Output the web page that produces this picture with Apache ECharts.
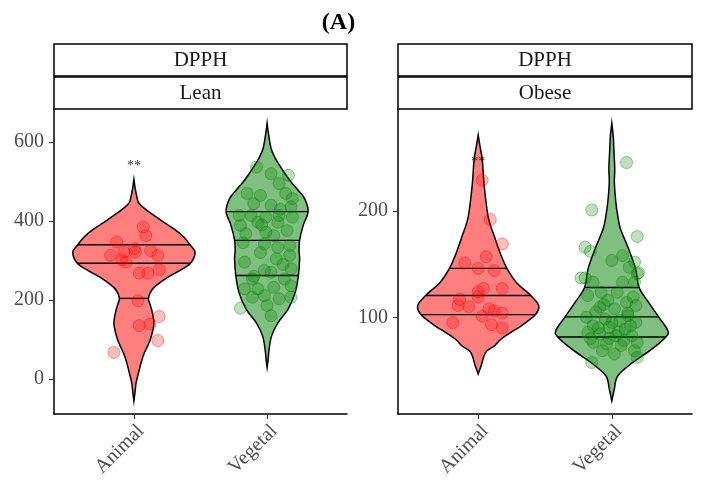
<!DOCTYPE html>
<html><head><meta charset="utf-8">
<script src="https://cdn.jsdelivr.net/npm/echarts@6/dist/echarts.min.js"></script>
<style>html,body{margin:0;padding:0;background:#fff}#c{width:704px;height:484px}</style>
</head><body><div id="c"></div>
<script>
const categories = ['Animal', 'Vegetal'];
const panelNames = ['Lean', 'Obese'];
const facetTitle = 'DPPH';
const figureTag = '(A)';
const yTicksLean = [0, 200, 400, 600];
const yTicksObese = [100, 200];

// violin outlines: value and half width (category units)
const leanAnimalProfileY = [506,480,460,445,425,402,380,359,340,321,293,275,258,240,224,204,190,173,140,105,85,63,40,20,0,-13,-35,-56];
const leanAnimalProfileW = [0,.011,.023,.038,.105,.203,.301,.376,.421,.459,.425,.346,.256,.180,.132,.109,.120,.135,.150,.128,.105,.075,.053,.038,.023,.015,.008,0];
const leanVegetalProfileY = [648,620,584,560,541,520,499,478,457,424,389,351,325,304,262,219,177,143,109,75,50,29];
const leanVegetalProfileW = [0,.011,.030,.060,.094,.135,.180,.233,.282,.308,.271,.244,.240,.244,.235,.211,.158,.083,.034,.015,.008,0];
const obeseAnimalProfileY = [271.4,260,249,230,218,193,174,158,146,133,120.5,111,102.5,92,86,79.6,73,67,54.4,46.6];
const obeseAnimalProfileW = [0,.015,.030,.041,.050,.077,.127,.172,.215,.284,.393,.453,.427,.322,.247,.172,.120,.056,.022,0];
const obeseVegetalProfileY = [282.5,270,259,240,227,208.5,195,183,164.5,146,128,114,100.4,87.5,81.5,70,57.5,45,32.5,21.4];
const obeseVegetalProfileW = [0,.011,.015,.022,.019,.030,.045,.065,.125,.177,.204,.275,.350,.419,.404,.299,.157,.045,.019,0];

// quantile lines (25/50/75 %)
const leanAnimalQuantiles = [204, 293, 340];
const leanVegetalQuantiles = [262, 351, 424];
const obeseAnimalQuantiles = [102.5, 120.5, 146];
const obeseVegetalQuantiles = [81.5, 100.4, 128];

// jittered points
const leanAnimalX = [1.07,1.09,0.87,1.005,1.01,0.925,1.125,0.825,1.18,0.91,0.94,1.04,1.105,1.19,1.03,1.04,1.12,1.19,1.18,0.85];
const leanAnimalY = [385,363,347,330,321,321,325,313,313,302,296,268,268,277,198,135,139,158,97,67];
const leanVegetalX = [1.92,2.16,1.80,2.03,2.09,1.85,1.95,2.19,1.90,2.03,2.18,1.79,1.88,1.99,2.09,2.19,1.80,1.93,2.08,2.15,1.84,1.99,2.05,2.17,1.98,2.08,1.83,2.07,2.17,2.18,1.98,1.89,2.03,2.13,1.83,1.93,2.05,2.18,1.89,1.98,2.09,2.18,2.00,2.03,1.82,1.95,2.12,1.90,2.10,1.96,2.14];
const leanVegetalY = [537,516,179,520,495,470,465,457,444,440,436,414,414,410,414,410,389,397,397,376,368,372,363,338,342,333,296,304,313,279,275,253,270,253,228,228,232,236,207,211,203,207,186,160,345,320,290,260,430,390,470];
const obeseAnimalX = [1.03,1.09,1.18,1.06,0.90,1.00,1.12,1.04,1.18,1.00,1.00,0.86,0.85,0.93,1.08,1.12,1.18,1.03,0.81,1.10,1.18];
const obeseAnimalY = [229,192,169,157,151,146,144,127,127,124,119,117,111,110,108,106,104,101,95,93,90];
const obeseVegetalX = [2.11,1.85,2.19,1.80,1.84,2.08,2.00,2.17,2.13,2.19,1.80,1.86,2.08,2.17,1.92,2.04,1.82,2.16,1.97,2.11,2.18,1.91,2.02,1.81,2.12,1.95,2.06,2.18,1.86,1.98,2.10,1.82,1.91,2.03,2.15,2.19,1.86,1.96,2.07,2.17,1.93,2.02,2.19,1.85,1.77,2.20,1.88,2.00,2.14,1.90,2.05,1.84,2.09,1.98,2.12,1.94];
const obeseVegetalY = [245.6,201,176,166,162,158,153.5,152,147,141,137,133,133,133,123.6,123.6,120.5,119,116,114,111,109.4,108,100,101.6,98.5,96.9,95.3,92,90.6,89,85.8,84.3,82.7,82.7,76.4,76.4,75,73.3,68.6,68.6,65.5,62.3,57.5,137,142,105,95,92,90,86,80,78,80,104,112];

// significance marks
const leanStarValue = 546;
const obeseStarValue = 249;

const SERIF = '"Liberation Serif", "DejaVu Serif", serif';

function pairs(xs, ys) { return xs.map((x, i) => [x, ys[i]]); }
function widthAt(py, pw, q) {
  for (let i = 0; i < py.length - 1; i++) {
    const a = py[i], b = py[i + 1];
    if ((q <= a && q >= b) || (q >= a && q <= b)) {
      const t = a === b ? 0 : (q - a) / (b - a);
      return pw[i] + t * (pw[i + 1] - pw[i]);
    }
  }
  return 0;
}
function spline(p) {
  let s = '';
  for (let i = 0; i < p.length - 1; i++) {
    const p0 = p[Math.max(i - 1, 0)], p1 = p[i], p2 = p[i + 1], p3 = p[Math.min(i + 2, p.length - 1)];
    const c1 = [p1[0] + (p2[0] - p0[0]) / 6, p1[1] + (p2[1] - p0[1]) / 6];
    const c2 = [p2[0] - (p3[0] - p1[0]) / 6, p2[1] - (p3[1] - p1[1]) / 6];
    s += 'C' + c1[0] + ',' + c1[1] + ' ' + c2[0] + ',' + c2[1] + ' ' + p2[0] + ',' + p2[1];
  }
  return s;
}
function violin(idx, center, py, pw, qs, fill) {
  return {
    type: 'custom', xAxisIndex: idx, yAxisIndex: idx, z: 2, silent: true,
    data: [[center, py[0]]],
    renderItem: function (params, api) {
      const right = [], left = [];
      for (let i = 0; i < py.length; i++) right.push(api.coord([center + pw[i], py[i]]));
      for (let i = py.length - 1; i >= 0; i--) left.push(api.coord([center - pw[i], py[i]]));
      const d = 'M' + right[0][0] + ',' + right[0][1] + spline(right) + spline(left) + 'Z';
      const children = [{ type: 'path', shape: { pathData: d }, style: { fill: fill, stroke: '#000', lineWidth: 1.5 } }];
      qs.forEach(q => {
        const w = widthAt(py, pw, q);
        const a = api.coord([center - w, q]), b = api.coord([center + w, q]);
        children.push({ type: 'line', shape: { x1: a[0], y1: a[1], x2: b[0], y2: b[1] }, style: { stroke: '#000', lineWidth: 1.4 } });
      });
      return { type: 'group', children: children };
    }
  };
}
function points(idx, xs, ys, rgb) {
  return {
    type: 'scatter', xAxisIndex: idx, yAxisIndex: idx, z: 3, silent: true,
    data: pairs(xs, ys), symbolSize: 12,
    itemStyle: { color: 'rgba(' + rgb + ',0.25)', borderColor: 'rgba(' + rgb + ',0.4)', borderWidth: 1, opacity: 1 }
  };
}
function star(idx, v) {
  return {
    type: 'scatter', xAxisIndex: idx, yAxisIndex: idx, z: 4, silent: true,
    data: [[1, v]], symbolSize: 1, itemStyle: { color: 'rgba(0,0,0,0)' },
    label: { show: true, position: 'inside', formatter: '**', fontSize: 14, color: '#000', fontFamily: SERIF, offset: [0, 3] }
  };
}
function xAxis(idx) {
  return {
    type: 'value', gridIndex: idx, min: 0.4, max: 2.6,
    axisLine: { show: true, onZero: false, lineStyle: { color: '#000', width: 1.5 } },
    axisTick: { show: true, customValues: [1, 2], length: 5, lineStyle: { color: '#333', width: 1.2 } },
    axisLabel: { customValues: [1, 2], formatter: v => categories[Math.round(v) - 1], rotate: 45, align: 'right', verticalAlign: 'top', fontSize: 20, color: '#4D4D4D', fontFamily: SERIF, margin: 7 },
    splitLine: { show: false }
  };
}
function yAxis(idx, min, max, ticks) {
  return {
    type: 'value', gridIndex: idx, min: min, max: max,
    axisLine: { show: true, onZero: false, lineStyle: { color: '#000', width: 1.5 } },
    axisTick: { show: true, customValues: ticks, length: 5, lineStyle: { color: '#333', width: 1.2 } },
    axisLabel: { customValues: ticks, fontSize: 20, color: '#4D4D4D', fontFamily: SERIF, margin: 10 },
    splitLine: { show: false }
  };
}
function strip(x, w, y, h, text) {
  return [
    { type: 'rect', shape: { x: x, y: y, width: w, height: h }, style: { fill: '#fff', stroke: '#000', lineWidth: 1.5 }, z: 10 },
    { type: 'text', x: x + w / 2, y: y + h / 2, style: { text: text, font: '21px ' + SERIF, fill: '#1A1A1A', align: 'center', verticalAlign: 'middle' }, z: 11 }
  ];
}

const chart = echarts.init(document.getElementById('c'), null, { renderer: 'canvas' });
chart.setOption({
  animation: false,
  backgroundColor: '#fff',
  grid: [
    { left: 54, top: 109, width: 293, height: 305 },
    { left: 398, top: 109, width: 294, height: 305 }
  ],
  xAxis: [xAxis(0), xAxis(1)],
  yAxis: [yAxis(0, -89, 684, yTicksLean), yAxis(1, 9, 296, yTicksObese)],
  series: [
    violin(0, 1, leanAnimalProfileY, leanAnimalProfileW, leanAnimalQuantiles, 'rgba(255,0,0,0.5)'),
    violin(0, 2, leanVegetalProfileY, leanVegetalProfileW, leanVegetalQuantiles, 'rgba(0,128,0,0.5)'),
    violin(1, 1, obeseAnimalProfileY, obeseAnimalProfileW, obeseAnimalQuantiles, 'rgba(255,0,0,0.5)'),
    violin(1, 2, obeseVegetalProfileY, obeseVegetalProfileW, obeseVegetalQuantiles, 'rgba(0,128,0,0.5)'),
    points(0, leanAnimalX, leanAnimalY, '255,0,0'),
    points(0, leanVegetalX, leanVegetalY, '0,128,0'),
    points(1, obeseAnimalX, obeseAnimalY, '255,0,0'),
    points(1, obeseVegetalX, obeseVegetalY, '0,128,0'),
    star(0, leanStarValue),
    star(1, obeseStarValue)
  ],
  graphic: [
    { type: 'text', x: 338.5, y: 22.5, style: { text: figureTag, font: 'bold 24px ' + SERIF, fill: '#000', align: 'center', verticalAlign: 'middle' } },
    ...strip(54, 293, 44, 32, facetTitle),
    ...strip(54, 293, 77, 32, panelNames[0]),
    ...strip(398, 294, 44, 32, facetTitle),
    ...strip(398, 294, 77, 32, panelNames[1])
  ]
});
</script></body></html>
